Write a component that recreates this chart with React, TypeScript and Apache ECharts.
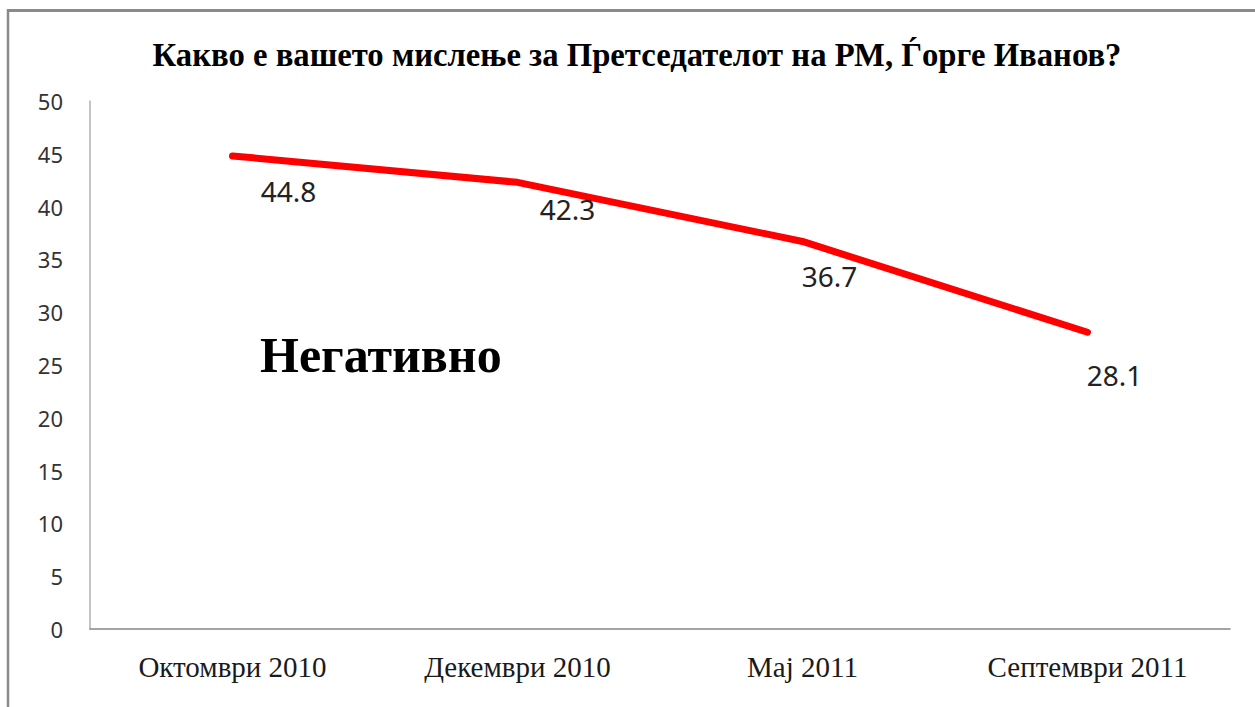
import React, { useEffect, useRef } from "react";
import * as echarts from "echarts";

const titleText = "Какво е вашето мислење за Претседателот на РМ, Ѓорге Иванов?";
const categories = ["Октомври 2010", "Декември 2010", "Мај 2011", "Септември 2011"];
const negativeValues = [44.8, 42.3, 36.7, 28.1];
const seriesName = "Негативно";
const yMin = 0;
const yMax = 50;
const yInterval = 5;

// label nudges (styling only)
const labelNudge: [number, number][] = [
  [56, 35],
  [50, 27],
  [27, 35],
  [27, 43],
];

export default function App() {
  const ref = useRef<HTMLDivElement>(null);
  useEffect(() => {
    if (!ref.current) return;
    const chart = echarts.init(ref.current, null, { renderer: "svg" });
    chart.setOption({
      animation: false,
      backgroundColor: "#ffffff",
      title: {
        text: titleText,
        left: 632,
        top: 33,
        textAlign: "center",
        textStyle: {
          fontFamily: "'Liberation Serif', 'DejaVu Serif', serif",
          fontWeight: "bold",
          fontSize: 32.7,
          color: "#000",
        },
      },
      grid: { left: 90, right: 25, top: 101, bottom: 78, containLabel: false },
      xAxis: {
        type: "category",
        data: categories,
        boundaryGap: true,
        axisLine: { show: true, lineStyle: { color: "#868686", width: 1.5 } },
        axisTick: { show: false },
        axisLabel: {
          margin: 23,
          fontFamily: "'Liberation Serif', 'DejaVu Serif', serif",
          fontSize: 29,
          color: "#1a1a1a",
        },
      },
      yAxis: {
        type: "value",
        min: yMin,
        max: yMax,
        interval: yInterval,
        axisLine: { show: true, lineStyle: { color: "#b0b0b0", width: 1.5 } },
        axisTick: { show: false },
        splitLine: { show: false },
        axisLabel: {
          margin: 27,
          fontFamily: "'Noto Sans', 'Open Sans', sans-serif",
          fontSize: 22,
          color: "#333",
        },
      },
      series: [
        {
          name: seriesName,
          type: "line",
          data: negativeValues.map((v, i) => ({
            value: v,
            label: { offset: labelNudge[i] },
          })),
          symbol: "circle",
          symbolSize: 2,
          showSymbol: true,
          itemStyle: { color: "#ff0000", borderWidth: 0 },
          lineStyle: { color: "#ff0000", width: 7, cap: "round", join: "round" },
          label: {
            show: true,
            position: "inside",
            align: "center",
            verticalAlign: "middle",
            fontFamily: "'Noto Sans', 'Open Sans', sans-serif",
            fontSize: 28,
            color: "#222",
            formatter: (p: any) => String(p.value),
          },
        },
      ],
      graphic: [
        {
          type: "text",
          left: 260,
          top: 330,
          style: {
            text: seriesName,
            fontFamily: "'Liberation Serif', 'DejaVu Serif', serif",
            fontWeight: "bold",
            fontSize: 50,
            fill: "#000",
          },
        },
        {
          type: "line",
          shape: { x1: 8, y1: 10.5, x2: 1255, y2: 10.5 },
          style: { stroke: "#8a8a8a", lineWidth: 3 },
        },
        {
          type: "line",
          shape: { x1: 8, y1: 9, x2: 8, y2: 707 },
          style: { stroke: "#8a8a8a", lineWidth: 2.5 },
        },
      ],
    });
    return () => chart.dispose();
  }, []);
  return (
    <div
      ref={ref}
      style={{ position: "absolute", left: 0, top: 0, width: 1255, height: 707 }}
    />
  );
}
